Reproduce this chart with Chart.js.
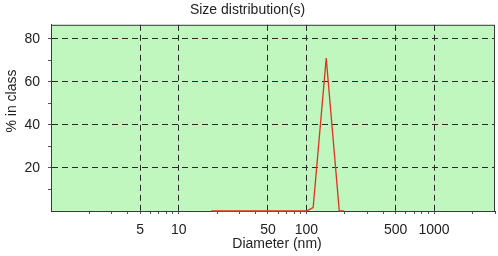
<!DOCTYPE html>
<html>
<head>
<meta charset="utf-8">
<script src="https://cdn.jsdelivr.net/npm/chart.js@4.4.0/dist/chart.umd.min.js"></script>
<style>
  html, body { margin: 0; padding: 0; background: #fff; }
  #wrap { width: 498px; height: 256px; }
</style>
</head>
<body>
<div id="wrap"><canvas id="myChart" width="498" height="256"></canvas></div>
<script>
// data
const diameters = [18, 25, 35, 50, 70, 100, 113, 143, 181, 197];
const percents  = [0, 0, 0, 0, 0, 0, 1.6, 71, 0, 0];

const xMajor = [5, 10, 50, 100, 500, 1000];
const xMinor = [2, 3, 4, 6, 7, 8, 9, 20, 30, 40, 60, 70, 80, 90, 200, 300, 400, 600, 700, 800, 900, 2000, 3000];
const yMajor = [20, 40, 60, 80];
const yMinor = [10, 30, 50, 70];

const fontFamily = '"Liberation Sans", Arial, sans-serif';
const font = { family: fontFamily, size: 14 };

// green plot area, frame and the two axis titles (placed like the original)
const plotBg = {
    id: 'plotBg',
    beforeDraw(chart) {
        const a = chart.chartArea, ctx = chart.ctx;
        ctx.save();
        ctx.fillStyle = '#c0f7bf';
        ctx.fillRect(a.left, a.top, a.right - a.left, a.bottom - a.top);
        ctx.restore();
    },
    beforeDatasetsDraw(chart) {
        const a = chart.chartArea, ctx = chart.ctx;
        ctx.save();
        ctx.strokeStyle = '#3a3a3a';
        ctx.lineWidth = 1;
        ctx.strokeRect(a.left + 0.5, a.top + 0.5, a.right - a.left - 1, a.bottom - a.top);
        ctx.restore();
    },
    afterDraw(chart) {
        const a = chart.chartArea, ctx = chart.ctx;
        ctx.save();
        ctx.fillStyle = '#222';
        ctx.font = '14px ' + fontFamily;
        ctx.textAlign = 'center';
        ctx.textBaseline = 'middle';
        ctx.fillText('Diameter (nm)', (a.left + a.right) / 2 + 4, 244);
        ctx.translate(12, 101);
        ctx.rotate(-Math.PI / 2);
        ctx.fillText('% in class', 0, 0);
        ctx.restore();
    }
};

const noPad = s => { s.paddingLeft = 0; s.paddingRight = 0; s.paddingTop = 0; s.paddingBottom = 0; };

const ctx = document.getElementById('myChart').getContext('2d');
new Chart(ctx, {
    type: 'line',
    data: {
        datasets: [{
            data: diameters.map((d, i) => ({ x: d, y: percents[i] })),
            borderColor: '#e0321e',
            borderWidth: 1.3,
            pointRadius: 0,
            fill: false,
            tension: 0,
            clip: false
        }]
    },
    options: {
        responsive: false,
        animation: false,
        layout: { padding: { left: 0, right: 3, top: 0, bottom: 0 } },
        plugins: {
            legend: { display: false },
            tooltip: { enabled: false },
            title: {
                display: true,
                text: 'Size distribution(s)',
                color: '#222',
                font: { ...font, weight: 'normal' },
                padding: { top: 2, bottom: 6 }
            }
        },
        scales: {
            x: {
                type: 'logarithmic',
                min: 1,
                max: 3000,
                afterBuildTicks: s => { s.ticks = xMajor.concat(xMinor).sort((a, b) => a - b).map(v => ({ value: v })); },
                afterFit: s => { s.height = 45; noPad(s); },
                ticks: {
                    autoSkip: false,
                    maxRotation: 0,
                    color: '#222',
                    font: font,
                    padding: 8,
                    callback: v => xMajor.includes(v) ? String(v) : ''
                },
                grid: {
                    color: c => xMajor.includes(c.tick && c.tick.value) ? '#2a2a2a' : 'rgba(0,0,0,0)',
                    tickColor: '#555',
                    tickLength: 3,
                    lineWidth: 1
                },
                border: { display: true, color: '#3a3a3a', dash: [6, 4] }
            },
            y: {
                min: 0,
                max: 86.5,
                afterBuildTicks: s => { s.ticks = yMajor.concat(yMinor).sort((a, b) => a - b).map(v => ({ value: v })); },
                afterFit: s => { s.width = 51; noPad(s); },
                ticks: {
                    autoSkip: false,
                    color: '#222',
                    font: font,
                    padding: 8,
                    callback: v => yMajor.includes(v) ? String(v) : ''
                },
                grid: {
                    color: c => yMajor.includes(c.tick && c.tick.value) ? '#2a2a2a' : 'rgba(0,0,0,0)',
                    tickColor: '#555',
                    tickLength: 3,
                    lineWidth: 1
                },
                border: { display: true, color: '#3a3a3a', dash: [6, 4] }
            }
        }
    },
    plugins: [plotBg]
});
</script>
</body>
</html>
